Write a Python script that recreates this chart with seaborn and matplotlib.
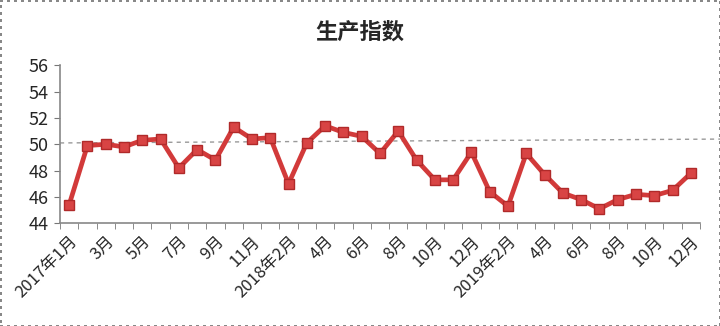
import numpy as np
import pandas as pd
import matplotlib
matplotlib.use('Agg')
import matplotlib.pyplot as plt
import seaborn as sns

months = (['2017年1月'] + ['%d月' % m for m in range(2, 13)]
          + ['2018年2月'] + ['%d月' % m for m in range(3, 13)]
          + ['2019年1月', '2019年2月'] + ['%d月' % m for m in range(3, 13)])
values = [45.4, 49.9, 50.0, 49.8, 50.3, 50.4, 48.2, 49.6, 48.8, 51.3, 50.4, 50.5,
          47.0, 50.1, 51.4, 50.9, 50.6, 49.3, 51.0, 48.8, 47.3, 47.3, 49.4,
          46.4, 45.3, 49.3, 47.7, 46.3, 45.8, 45.1, 45.8, 46.2, 46.1, 46.5, 47.8]
ref_line = [50.1, 50.4]

df = pd.DataFrame({'idx': np.arange(len(values)), 'month': months, 'value': values})

sns.set_style('white')
plt.rcParams['font.family'] = ['Noto Sans CJK SC', 'DejaVu Sans']

fig = plt.figure(figsize=(7.2, 3.26), dpi=100)
fig.patch.set_edgecolor('#888888')
fig.patch.set_linewidth(2)
fig.patch.set_linestyle(':')
ax = fig.add_axes([0.0833, 0.315, 0.8889, 0.485])

# 参考线
ax.plot([-0.5, 36.5], ref_line, color='#999999', lw=1, ls=(0, (3, 3)), clip_on=False, zorder=1)

sns.lineplot(data=df, x='idx', y='value', ax=ax, color='#d23a3a', lw=3.4,
             marker='s', markersize=7.5, markerfacecolor='#d84444',
             markeredgecolor='#b02a2a', markeredgewidth=1, zorder=3)

ax.set_xlim(-0.5, len(values) - 0.5)
ax.set_ylim(44, 56)
ax.set_yticks(range(44, 57, 2))
ax.set_xticks(df['idx'][::2])
ax.set_xticklabels(df['month'][::2], rotation=45, ha='right', va='top',
                   rotation_mode='anchor', fontsize=12)
ax.set_xticks(np.arange(-0.5, len(values), 1), minor=True)
ax.tick_params(axis='x', which='major', length=0, pad=7)
ax.tick_params(axis='x', which='minor', length=4, color='#777777', direction='out', bottom=True)
ax.tick_params(axis='y', length=4, color='#777777', direction='out', left=True, labelsize=13, pad=4)
ax.set_xlabel('')
ax.set_ylabel('')
for s in ['top', 'right']:
    ax.spines[s].set_visible(False)
for s in ['left', 'bottom']:
    ax.spines[s].set_color('#888888')
    ax.spines[s].set_linewidth(1.2)

fig.text(0.5, 0.9, '生产指数', ha='center', va='center', fontsize=16, fontweight='bold')

fig.savefig('out.png', dpi=100)
